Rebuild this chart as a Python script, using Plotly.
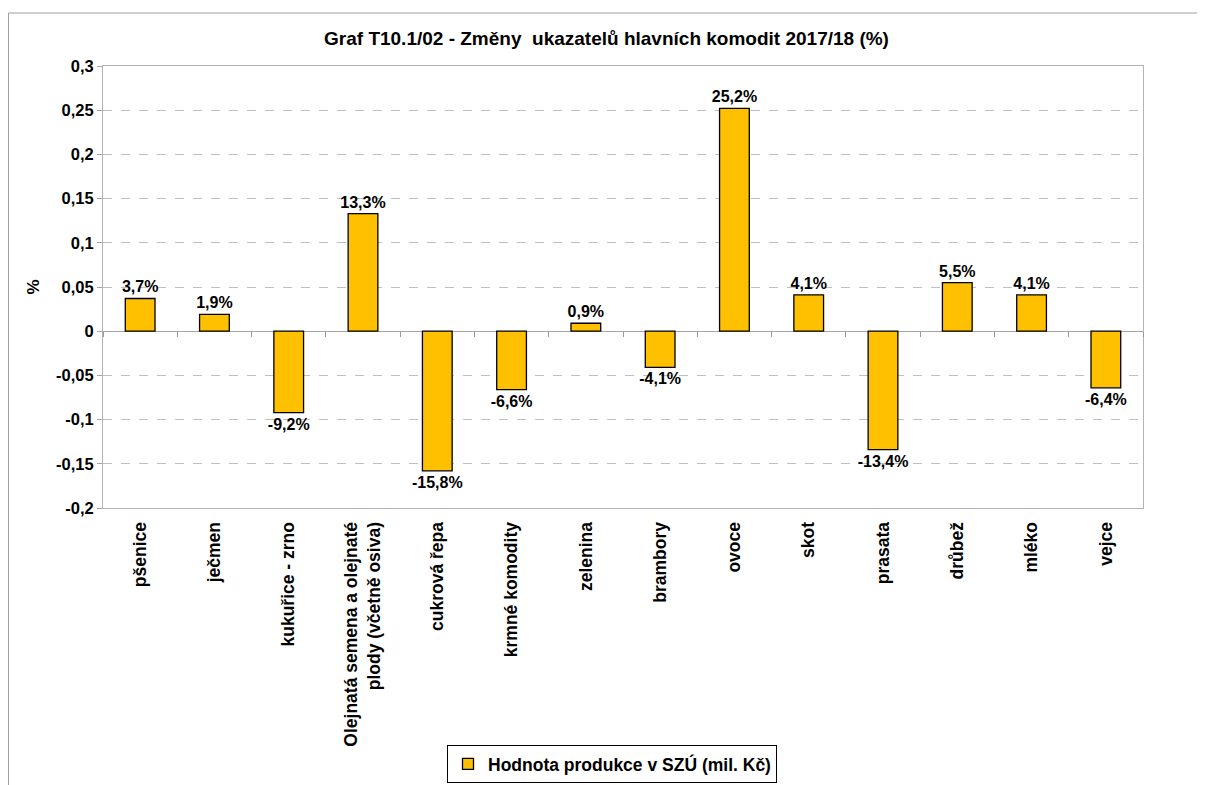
import plotly.graph_objects as go

categories = ["pšenice", "ječmen", "kukuřice - zrno",
              "Olejnatá semena a olejnaté<br>plody (včetně osiva)",
              "cukrová řepa", "krmné komodity", "zelenina", "brambory",
              "ovoce", "skot", "prasata", "drůbež", "mléko", "vejce"]
values = [0.037, 0.019, -0.092, 0.133, -0.158, -0.066, 0.009, -0.041,
          0.252, 0.041, -0.134, 0.055, 0.041, -0.064]
y_ticks = [-0.2, -0.15, -0.1, -0.05, 0, 0.05, 0.1, 0.15, 0.2, 0.25, 0.3]
y_ticktext = ["-0,2", "-0,15", "-0,1", "-0,05", "0", "0,05", "0,1",
              "0,15", "0,2", "0,25", "0,3"]
series_name = "Hodnota produkce v SZÚ (mil. Kč)"
title = "Graf T10.1/02 - Změny  ukazatelů hlavních komodit 2017/18 (%)"

labels = [f"{v*100:.1f}%".replace(".", ",") for v in values]

FONT = "Arial, Liberation Sans, sans-serif"
W, H = 1197, 777
L, R, T, B = 95, 62, 58, 277
PW, PH = W - L - R, H - T - B


def px_x(x):
    return (x - L) / PW


def px_y(y):
    return (H - B - y) / PH


fig = go.Figure()
fig.add_trace(go.Bar(
    x=categories, y=values, name=series_name,
    text=labels, textposition="outside", cliponaxis=False,
    constraintext="none", textangle=0,
    textfont=dict(family=FONT, size=16, color="black", weight="bold"),
    marker=dict(color="#FFC000", line=dict(color="black", width=1.3)),
    width=0.4, showlegend=False,
))
# legend entry (small square symbol)
fig.add_trace(go.Scatter(
    x=[None], y=[None], mode="markers", name=series_name,
    marker=dict(symbol="square", size=11, color="#FFC000",
                line=dict(color="black", width=1.3)),
    showlegend=True,
))
# invisible trace for zero-line tick marks axis
fig.add_trace(go.Scatter(x=categories, y=[None] * len(categories), xaxis="x2",
                         showlegend=False, hoverinfo="skip", mode="markers"))

fig.update_layout(
    width=W, height=H,
    margin=dict(l=L, r=R, t=T, b=B, autoexpand=False),
    paper_bgcolor="white", plot_bgcolor="white",
    font=dict(family=FONT, size=16, color="black"),
    title=dict(text="<b>" + title + "</b>", x=0.5, xanchor="center",
               y=1 - 30 / H, yanchor="middle",
               font=dict(family=FONT, size=19, color="black")),
    xaxis=dict(type="category", categoryorder="array", categoryarray=categories,
               range=[-0.5, len(categories) - 0.5],
               tickangle=-90, showgrid=False, zeroline=False,
               showline=True, linecolor="#b3b3b3", linewidth=1, mirror=True,
               ticks="", tickfont=dict(family=FONT, size=17.5, color="black", weight="bold"),
               ticklabelstandoff=6),
    xaxis2=dict(type="category", categoryorder="array", categoryarray=categories,
                range=[-0.5, len(categories) - 0.5], overlaying="x",
                anchor="free", position=0.4, showline=False, showgrid=False,
                zeroline=False, showticklabels=False, ticks="outside",
                tickson="boundaries", ticklen=5, tickcolor="#999999", tickwidth=1),
    yaxis=dict(range=[-0.2, 0.3], tickvals=y_ticks, ticktext=y_ticktext,
               showgrid=True, gridcolor="#bfbfbf", griddash="dash", gridwidth=1,
               zeroline=True, zerolinecolor="#a6a6a6", zerolinewidth=1,
               showline=True, linecolor="#b3b3b3", linewidth=1, mirror=True,
               ticks="outside", ticklen=5, tickcolor="#a6a6a6",
               tickfont=dict(family=FONT, size=16.5, color="black", weight="bold"),
               title=dict(text="<b>%</b>", standoff=12,
                          font=dict(family=FONT, size=17, color="black"))),
    legend=dict(orientation="h", xref="container", yref="container",
                x=604 / W, xanchor="center",
                y=1 - 775 / H, yanchor="bottom",
                bordercolor="black", borderwidth=1, bgcolor="white",
                font=dict(family=FONT, size=17.5, color="black", weight="bold"),
                itemwidth=30),
    shapes=[
        dict(type="line", xref="paper", yref="paper",
             x0=px_x(0.5), x1=px_x(W + 5),
             y0=px_y(5), y1=px_y(5),
             line=dict(color="#a0a0a0", width=1)),
        dict(type="line", xref="paper", yref="paper",
             x0=px_x(0.5), x1=px_x(0.5),
             y0=px_y(5), y1=px_y(H + 5),
             line=dict(color="#a0a0a0", width=1)),
    ],
)
fig.write_html("out.html")
